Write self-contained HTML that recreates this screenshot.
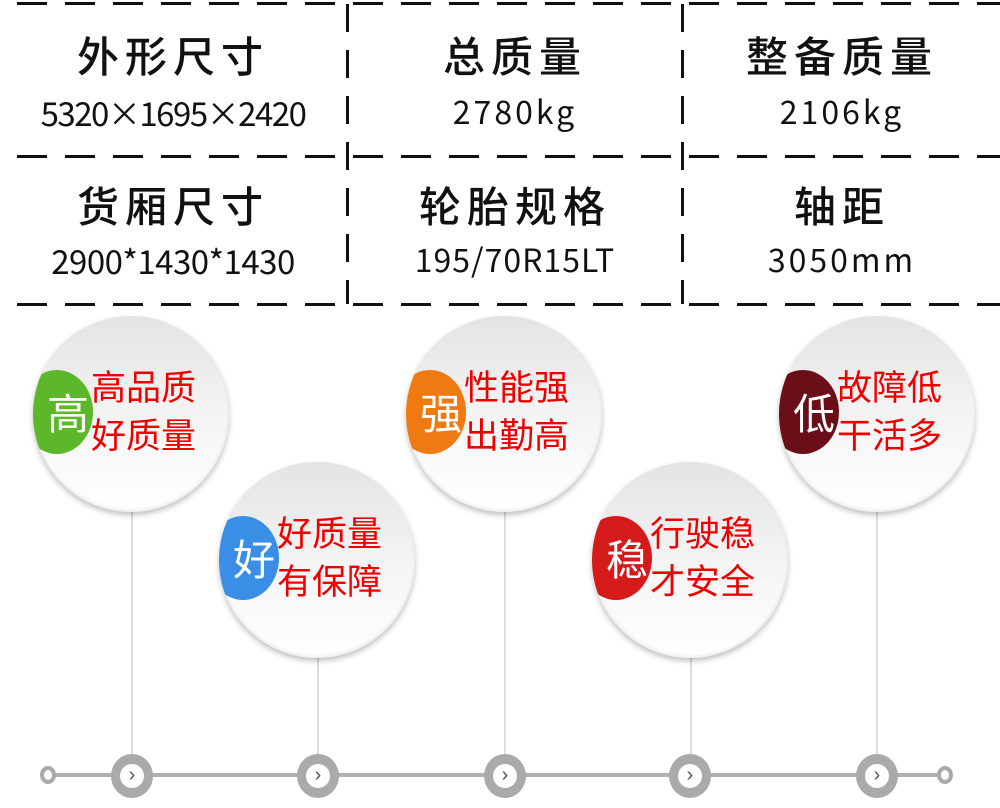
<!DOCTYPE html>
<html><head><meta charset="utf-8"><style>
body{margin:0;width:1000px;height:808px;background:#fff;overflow:hidden;position:relative;font-family:"Liberation Sans","Noto Sans CJK SC",sans-serif}
.h{position:absolute;left:0;width:1000px;height:3px;background:repeating-linear-gradient(90deg,transparent 0 17px,#111 17px 47px,transparent 47px 48px)}
.v{position:absolute;width:3px;background:repeating-linear-gradient(180deg,#111 0 28px,transparent 28px 46px)}
.t{position:absolute;text-align:center;color:#111;font-family:"Noto Sans CJK SC",sans-serif}
.ti{font-size:42px;letter-spacing:6px;font-weight:500}
.va{font-size:32px;letter-spacing:3px}
.c{position:absolute;width:196px;height:196px;border-radius:50%;overflow:hidden;background:linear-gradient(180deg,#e4e4e4 0%,#f2f2f2 45%,#fafafa 75%,#fff 100%);box-shadow:0 3px 6px rgba(0,0,0,.25),inset 0 -2px 3px rgba(0,0,0,.08)}
.b{position:absolute;left:-12px;top:54px;width:72px;height:84px;border-radius:50%;color:#fff;font-size:42px;line-height:84px;text-align:right;padding-right:4px;box-sizing:border-box;font-family:"Noto Sans CJK SC",sans-serif}
.r{position:absolute;left:58px;top:46px;color:#e00;font-size:35px;line-height:48px;font-family:"Noto Sans CJK SC",sans-serif}
.l{position:absolute;width:2px;background:#ddd}
.n{position:absolute;top:754px;width:42px;height:44px;border-radius:50%;background:#aaa;box-sizing:border-box}
.n i{position:absolute;left:9px;top:10px;width:24px;height:24px;border-radius:50%;background:#fff;font-style:normal;font-size:20px;line-height:22px;text-align:center;color:#555}
</style></head><body>
<div class="h" style="top:2px"></div>
<div class="h" style="top:155px"></div>
<div class="h" style="top:303px"></div>
<div class="v" style="left:346px;top:4px;height:300px"></div>
<div class="v" style="left:681px;top:4px;height:300px"></div>
<div class="t ti" style="left:0;width:346px;top:24px">外形尺寸</div>
<div class="t" style="left:0;width:346px;top:88px;font-size:33px;letter-spacing:-1.5px">5320×1695×2420</div>
<div class="t ti" style="left:349px;width:332px;top:24px">总质量</div>
<div class="t va" style="left:349px;width:332px;top:88px">2780kg</div>
<div class="t ti" style="left:684px;width:316px;top:24px">整备质量</div>
<div class="t va" style="left:684px;width:316px;top:88px">2106kg</div>
<div class="t ti" style="left:0;width:346px;top:174px">货厢尺寸</div>
<div class="t" style="left:0;width:346px;top:236px;font-size:33px;letter-spacing:-0.5px">2900*1430*1430</div>
<div class="t ti" style="left:349px;width:332px;top:174px">轮胎规格</div>
<div class="t va" style="left:349px;width:332px;top:236px;letter-spacing:1px">195/70R15LT</div>
<div class="t ti" style="left:684px;width:316px;top:174px">轴距</div>
<div class="t va" style="left:684px;width:316px;top:236px">3050mm</div>

<div class="l" style="left:131px;top:510px;height:250px"></div>
<div class="l" style="left:317px;top:655px;height:105px"></div>
<div class="l" style="left:504px;top:510px;height:250px"></div>
<div class="l" style="left:690px;top:655px;height:105px"></div>
<div class="l" style="left:876px;top:510px;height:250px"></div>

<div style="position:absolute;left:45px;top:773px;width:900px;height:4px;background:#b0b0b0"></div>
<div style="position:absolute;left:40px;top:766px;width:16px;height:18px;border-radius:50%;border:4px solid #aaa;box-sizing:border-box;background:#fff"></div>
<div style="position:absolute;left:937px;top:766px;width:16px;height:18px;border-radius:50%;border:4px solid #aaa;box-sizing:border-box;background:#fff"></div>
<div class="n" style="left:111px"><i>›</i></div>
<div class="n" style="left:297px"><i>›</i></div>
<div class="n" style="left:484px"><i>›</i></div>
<div class="n" style="left:669px"><i>›</i></div>
<div class="n" style="left:856px"><i>›</i></div>

<div class="c" style="left:33px;top:316px"><div class="b" style="background:#5cb82a">高</div><div class="r">高品质<br>好质量</div></div>
<div class="c" style="left:219px;top:462px"><div class="b" style="background:#3a8ee6">好</div><div class="r">好质量<br>有保障</div></div>
<div class="c" style="left:406px;top:316px"><div class="b" style="background:#f07a12">强</div><div class="r">性能强<br>出勤高</div></div>
<div class="c" style="left:592px;top:462px"><div class="b" style="background:#d41a1a">稳</div><div class="r">行驶稳<br>才安全</div></div>
<div class="c" style="left:779px;top:316px"><div class="b" style="background:#6a0f18">低</div><div class="r">故障低<br>干活多</div></div>
</body></html>
